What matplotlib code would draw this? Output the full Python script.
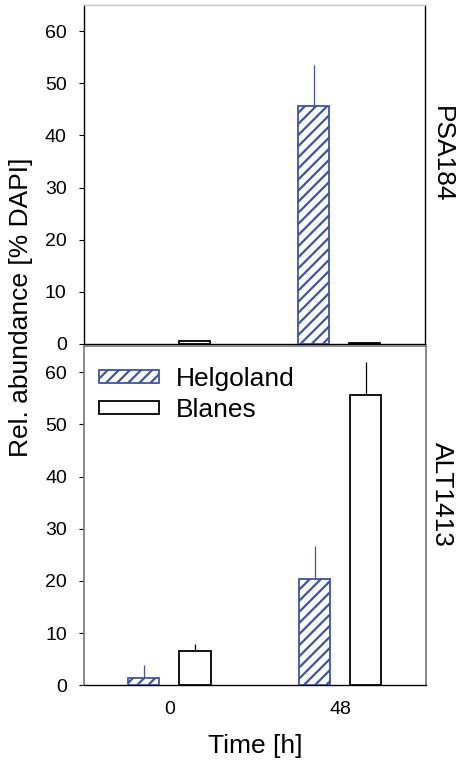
import matplotlib
matplotlib.use("Agg")
import matplotlib.pyplot as plt
import numpy as np

plt.rcParams['font.family'] = ['Liberation Sans', 'DejaVu Sans']
plt.rcParams['hatch.linewidth'] = 1.6

# Data
time_labels = ["0", "48"]
series = ["Helgoland", "Blanes"]

psa_helgoland = [0.0, 45.6]
psa_helgoland_err = [0.0, 7.8]
psa_blanes = [0.5, 0.25]
psa_blanes_err = [0.0, 0.0]

alt_helgoland = [1.45, 20.4]
alt_helgoland_err = [2.45, 6.2]
alt_blanes = [6.6, 55.6]
alt_blanes_err = [1.3, 6.4]

BLUE = "#3a55a8"
W, H = 457, 762
fig = plt.figure(figsize=(W / 100, H / 100), dpi=100)

ax_top = fig.add_axes([83.5 / W, 1 - 344 / H, 341 / W, 339 / H])
ax_bot = fig.add_axes([84 / W, 1 - 685.3 / H, 341.5 / W, 339.3 / H])

x = np.arange(len(time_labels))
off = 0.15
bw = 0.182


def edge_widths(vals):
    # zero-height bars are left undrawn
    return [1.3 if v > 0 else 0.0 for v in vals]


def draw(ax, helg, helg_err, blan, blan_err):
    ax.bar(x - off, helg, bw, facecolor="white", edgecolor=BLUE,
           hatch="///", linewidth=edge_widths(helg), label=series[0], zorder=3)
    ax.bar(x + off, blan, bw, facecolor="white", edgecolor="black",
           linewidth=edge_widths(blan), label=series[1], zorder=3)
    ax.errorbar(x - off, helg, yerr=[np.zeros(len(x)), helg_err], fmt="none",
                ecolor=BLUE, elinewidth=0.9, capsize=0, zorder=2)
    ax.errorbar(x + off, blan, yerr=[np.zeros(len(x)), blan_err], fmt="none",
                ecolor="black", elinewidth=0.9, capsize=0, zorder=2)
    ax.set_xlim(-0.5, 1.5)
    ax.set_ylim(0, 65)
    ax.set_yticks(np.arange(0, 61, 10))
    ax.tick_params(axis="y", direction="out", length=3.6, width=0.8,
                   labelsize=14, pad=8.5)
    ax.tick_params(axis="x", length=0)


draw(ax_top, psa_helgoland, psa_helgoland_err, psa_blanes, psa_blanes_err)
draw(ax_bot, alt_helgoland, alt_helgoland_err, alt_blanes, alt_blanes_err)

ax_top.set_xticks([])
for s in ["left", "right", "bottom"]:
    ax_top.spines[s].set_color("black")
ax_top.spines["top"].set_color("#c8c8c8")
for sp in ax_top.spines.values():
    sp.set_linewidth(1.0)

ax_bot.set_xticks(x)
ax_bot.set_xticklabels(time_labels)
ax_bot.tick_params(axis="x", labelsize=14, pad=11)
for s in ["left", "right", "top"]:
    ax_bot.spines[s].set_color("#808080")
    ax_bot.spines[s].set_linewidth(1.3)
ax_bot.spines["bottom"].set_color("black")
ax_bot.spines["bottom"].set_linewidth(1.0)
ax_bot.set_xlabel("Time [h]", fontsize=19, labelpad=12)

leg = ax_bot.legend(loc="center left", bbox_to_anchor=(0.044, 0.857),
                    frameon=False, fontsize=19, borderpad=0, borderaxespad=0,
                    handlelength=2.27, handleheight=0.38, handletextpad=0.64,
                    labelspacing=0.28)

fig.text(21 / W, 1 - 307 / H, "Rel. abundance [% DAPI]", rotation=90,
         fontsize=19, ha="center", va="center")
fig.text(442 / W, 1 - 154 / H, "PSA184", rotation=270,
         fontsize=19, ha="center", va="center")
fig.text(442 / W, 1 - 494 / H, "ALT1413", rotation=270,
         fontsize=19, ha="center", va="center")

fig.savefig("out.png", dpi=100)
